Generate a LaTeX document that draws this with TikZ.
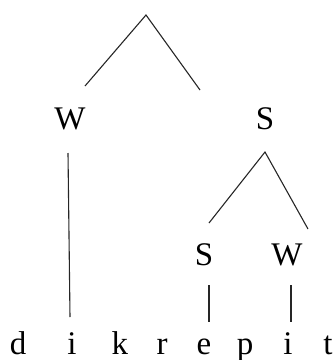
\documentclass[tikz,border=0pt]{standalone}
\usepackage{fontspec}
\setmainfont{Liberation Serif}
\begin{document}
\begin{tikzpicture}[x=1pt,y=-1pt,
  lbl/.style={anchor=base,inner sep=0pt,text depth=0pt,font=\fontsize{33}{34}\selectfont},
  br/.style={line width=1.1pt,color=black!85}]
\useasboundingbox (0,0) rectangle (335,360);
% labels
\node[lbl] (W1) at (70,129) {W};
\node[lbl] (S1) at (265,129) {S};
\node[lbl] (S2) at (204,265) {S};
\node[lbl] (W2) at (287,265) {W};
% segments
\node[lbl] (d) at (18,354) {d};
\node[lbl] (i1) at (72,354) {i};
\node[lbl] (k) at (120,354) {k};
\node[lbl] (r) at (162,354) {r};
\node[lbl] (e) at (204,354) {e};
\node[lbl] (p) at (245,354) {p};
\node[lbl] (i2) at (288,354) {i};
\node[lbl] (t) at (328,354) {t};
% tree coordinates
\coordinate (top) at (146,15);
\coordinate (topL) at (85,86);
\coordinate (topR) at (200,90);
\coordinate (w1a) at (68,153);
\coordinate (w1b) at (70,317);
\coordinate (s1) at (265,152);
\coordinate (s1L) at (209,223);
\coordinate (s1R) at (308,229);
\coordinate (s2a) at (209,285);
\coordinate (s2b) at (209,322);
\coordinate (w2a) at (291,285);
\coordinate (w2b) at (291,322);
\draw[br] (topL) -- (top) -- (topR);
\draw[br] (w1a) -- (w1b);
\draw[br] (s1L) -- (s1) -- (s1R);
\draw[br] (s2a) -- (s2b);
\draw[br] (w2a) -- (w2b);
\end{tikzpicture}
\end{document}
